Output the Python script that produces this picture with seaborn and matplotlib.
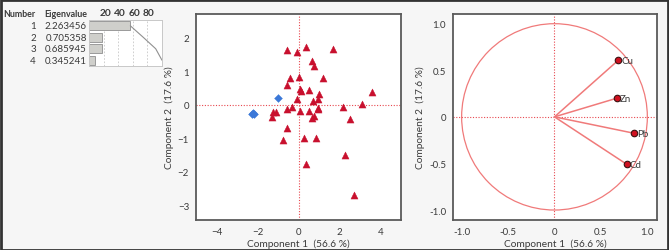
import numpy as np
import pandas as pd
import matplotlib
matplotlib.use("Agg")
import matplotlib.pyplot as plt
import seaborn as sns
from matplotlib.patches import Circle, Rectangle

# ---------------- data ----------------
numbers = ["1", "2", "3", "4"]
eigenvalues = [2.263456, 0.705358, 0.685945, 0.345241]
pct_ticks = [20, 40, 60, 80]

tri_x = [-0.59, -0.10, 0.33, 1.69, 3.60, 3.08, 2.15, 2.52, 2.28, 2.70,
         0.34, 0.85, 0.25, -0.77, -0.59, -1.34, -1.25, -1.11, -0.56, -0.34,
         0.08, 0.49, 0.64, 0.77, 0.92, 0.95, 0.69, 0.95, 0.98, 0.49,
         0.08, 0.11, -0.08, 0.03, -0.44, -0.57, 1.21, 0.64, 0.74]
tri_y = [1.62, 1.58, 1.72, 1.67, 0.39, 0.03, -0.07, -0.44, -1.49, -2.68,
         -1.78, -0.99, -1.01, -1.05, -0.70, -0.38, -0.21, -0.21, -0.13, -0.06,
         -0.19, -0.18, -0.41, -0.34, -0.11, -0.14, 0.10, 0.16, 0.32, 0.43,
         0.46, 0.41, 0.18, 0.82, 0.79, 0.58, 0.79, 1.30, 1.15]
dia_x = [-1.00, -2.25, -2.22, -2.28]
dia_y = [0.21, -0.24, -0.29, -0.28]

variables = ["Cu", "Zn", "Pb", "Cd"]
load_x = [0.685, 0.670, 0.857, 0.778]
load_y = [0.606, 0.200, -0.176, -0.509]

pc1_label = "Component 1  (56.6 %)"
pc2_label = "Component 2  (17.6 %)"

# ---------------- style ----------------
sns.set_theme(style="white")
plt.rcParams['font.family'] = ['Lato', 'DejaVu Sans']
FS = 7.0
HFS = 6.4
TXT = "#3a3a3a"
FRAME = "#5a5a5a"
RED = "#c8102e"
BLUE = "#3b78d8"
PINK = "#f07a7a"

W, H = 669, 251
fig = plt.figure(figsize=(W / 100, H / 100), dpi=100)
fig.patch.set_facecolor("#f6f6f6")

def px_axes(x0, y0, x1, y1):
    return fig.add_axes([x0 / W, 1 - y1 / H, (x1 - x0) / W, (y1 - y0) / H])

# outer border
fig.add_artist(Rectangle((0.5 / W, 0.5 / H), 1 - 1.5 / W, 1 - 1.5 / H,
                         transform=fig.transFigure, fill=False,
                         edgecolor="#333333", lw=2.0))

def style_frame(ax):
    for s in ax.spines.values():
        s.set_color(FRAME)
        s.set_linewidth(1.3)
    ax.set_facecolor("white")
    ax.tick_params(axis="both", which="both", direction="out", colors="#888888",
                   labelcolor=TXT, labelsize=FS, length=3, width=0.6, pad=2)
    ax.tick_params(which="minor", length=2)

# ---------------- eigenvalue table ----------------
df_eig = pd.DataFrame({"Number": numbers, "Eigenvalue": eigenvalues})
df_eig["Percent"] = df_eig["Eigenvalue"] / df_eig["Eigenvalue"].sum() * 100
df_eig["Cum"] = df_eig["Percent"].cumsum()

axb = px_axes(89, 21, 162, 67)
sns.barplot(data=df_eig, x="Percent", y="Number", orient="h", ax=axb,
            color="#cfcfcb", edgecolor="#9a9a9a", linewidth=0.7, width=0.8,
            saturation=1)
axb.plot(df_eig["Cum"], np.arange(len(numbers)), color="#909090", lw=0.8)
axb.set_xlim(0, 100)
axb.set_ylim(3.5, -0.5)
for p in pct_ticks:
    axb.axvline(p, color="#c8c8c8", lw=0.6, ls=(0, (2, 2)), zorder=0)
axb.set_xticks([])
axb.set_yticks([])
axb.set_xlabel("")
axb.set_ylabel("")
axb.set_facecolor("white")
for s in axb.spines.values():
    s.set_color("#c8c8c8")
    s.set_linewidth(0.7)
for p in pct_ticks:
    axb.text(p + 2, -0.75, str(p), ha="center", va="bottom", fontsize=FS + 0.3,
             fontweight="bold", color=TXT)

fig.text(3 / W, 1 - 15 / H, "Number", ha="left", va="center", fontsize=HFS,
         fontweight="bold", color=TXT)
fig.text(87 / W, 1 - 15 / H, "Eigenvalue", ha="right", va="center", fontsize=HFS,
         fontweight="bold", color=TXT)
row_y = [26.5, 38.5, 50, 61.5]
for i, (n, ev) in enumerate(zip(numbers, eigenvalues)):
    fig.text(36 / W, 1 - row_y[i] / H, n, ha="right", va="center",
             fontsize=FS, color=TXT)
    fig.text(87 / W, 1 - row_y[i] / H, f"{ev:.6f}", ha="right", va="center",
             fontsize=FS, color=TXT)

# ---------------- score plot ----------------
ax1 = px_axes(196, 15, 401, 221)
style_frame(ax1)
ax1.axhline(0, color="#e8484f", lw=0.8, ls=(0, (1, 1.5)), zorder=1)
ax1.axvline(0, color="#e8484f", lw=0.8, ls=(0, (1, 1.5)), zorder=1)
sns.scatterplot(x=tri_x, y=tri_y, marker="^", color=RED, s=26, linewidth=0.3,
                edgecolor=RED, ax=ax1, zorder=3)
sns.scatterplot(x=dia_x, y=dia_y, marker="D", color=BLUE, s=16, linewidth=0.3,
                edgecolor=BLUE, ax=ax1, zorder=3)
ax1.set_xlim(-5.05, 5.02)
ax1.set_ylim(-3.44, 2.70)
ax1.set_xticks([-4, -2, 0, 2, 4])
ax1.set_xticks([-3, -1, 1, 3], minor=True)
ax1.set_yticks([-3, -2, -1, 0, 1, 2])
ax1.set_xlabel(pc1_label, fontsize=FS + 0.3, color=TXT, labelpad=2)
ax1.set_ylabel(pc2_label, fontsize=FS + 0.3, color=TXT, labelpad=3)

# ---------------- loading plot ----------------
ax2 = px_axes(453, 15, 657, 221)
style_frame(ax2)
ax2.axhline(0, color="#e8484f", lw=0.8, ls=(0, (1, 1.5)), zorder=1)
ax2.axvline(0, color="#e8484f", lw=0.8, ls=(0, (1, 1.5)), zorder=1)
ax2.add_patch(Circle((0, 0), 1.0, fill=False, edgecolor=PINK, lw=0.9, zorder=2))
for lx, ly in zip(load_x, load_y):
    ax2.plot([0, lx], [0, ly], color=PINK, lw=1.1, zorder=2)
sns.scatterplot(x=load_x, y=load_y, marker="o", color="#d01020", s=22,
                edgecolor="#3a1010", linewidth=0.8, ax=ax2, zorder=4)
for v, lx, ly in zip(variables, load_x, load_y):
    ax2.text(lx + 0.035, ly, v, ha="left", va="center", fontsize=FS, color=TXT)
ax2.set_xlim(-1.093, 1.104)
ax2.set_ylim(-1.107, 1.104)
ax2.set_xticks([-1.0, -0.5, 0, 0.5, 1.0])
ax2.set_xticklabels(["-1.0", "-0.5", "0", "0.5", "1.0"])
ax2.set_yticks([-1.0, -0.5, 0, 0.5, 1.0])
ax2.set_yticklabels(["-1.0", "-0.5", "0", "0.5", "1.0"])
ax2.set_xlabel(pc1_label, fontsize=FS + 0.3, color=TXT, labelpad=2)
ax2.set_ylabel(pc2_label, fontsize=FS + 0.3, color=TXT, labelpad=3)

fig.savefig("out.png", dpi=100, facecolor=fig.get_facecolor())
